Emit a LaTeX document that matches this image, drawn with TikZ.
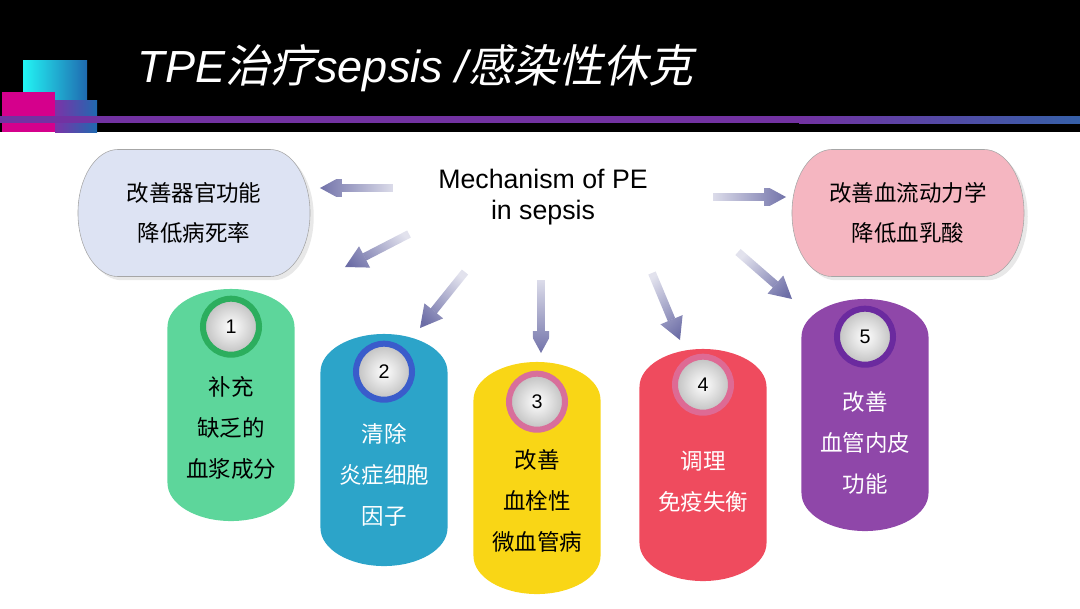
\documentclass[tikz,border=0pt]{standalone}
\usepackage{fontspec}
\setmainfont{Liberation Sans}
\newfontfamily\cjk{Noto Sans CJK SC}
\newfontfamily\cjkslant[FakeSlant=0.2]{Noto Sans CJK SC}
\usepackage{xcolor}
\usepackage{tikz}
\usetikzlibrary{positioning}
\usetikzlibrary{shadows}
\usetikzlibrary{arrows.meta}
\usetikzlibrary{backgrounds}
\usetikzlibrary{fadings}

\definecolor{deccyan}{HTML}{22F4F4}
\definecolor{decblue}{HTML}{1F6AB0}
\definecolor{decmagenta}{HTML}{D5008C}
\definecolor{decpurple}{HTML}{7B33A8}
\definecolor{hdrpurple}{HTML}{7232A2}
\definecolor{hdrblue}{HTML}{3660A8}
\definecolor{organfill}{HTML}{DDE3F3}
\definecolor{flowfill}{HTML}{F5B6C1}
\definecolor{arrowdark}{HTML}{6C6DA6}
\definecolor{pillgreen}{HTML}{5DD69B}
\definecolor{pillteal}{HTML}{2CA4C9}
\definecolor{pillyellow}{HTML}{F9D616}
\definecolor{pillred}{HTML}{EF4B5E}
\definecolor{pillpurple}{HTML}{8F47A9}
\definecolor{ringgreen}{HTML}{2CAE5E}
\definecolor{ringblue}{HTML}{3A5CCB}
\definecolor{ringpink}{HTML}{D86F9B}
\definecolor{ringrose}{HTML}{DE6A94}
\definecolor{ringpurple}{HTML}{6B2A9F}

\tikzfading[name=arrowfade, left color=transparent!80, right color=transparent!0]

\begin{document}
\begin{tikzpicture}[x=0.025cm, y=0.025cm,
goalbox/.style={rectangle, inner sep=0pt, outer sep=0pt,
minimum width=5.8cm, minimum height=3.175cm, align=center,
font=\cjk\fontsize{16}{28}\selectfont},
    goalshape/.style={draw=black!35, fill=#1, drop shadow={opacity=0.18}},
    pill/.style={minimum width=3.175cm, minimum height=5.8cm, path picture={
\fill[#1] ([yshift=-0.95cm]path picture bounding box.north west)
  arc[start angle=180, end angle=0, x radius=1.5875cm, y radius=0.95cm]
  -- ([yshift=0.95cm]path picture bounding box.south east)
  arc[start angle=0, end angle=-180, x radius=1.5875cm, y radius=0.95cm] -- cycle;}},
    badge/.style={circle, minimum size=1.4cm, draw=#1, line width=0.15cm,
inner color=white, outer color=black!25, font=\fontsize{14}{16}\selectfont},
    pilltext/.style={align=center, font=\cjk\fontsize{16}{29}\selectfont},
    mechtext/.style={align=center, font=\fontsize{19}{22}\selectfont},
    mecharrow/.style={draw=arrowdark, line width=0.2cm,
-{Triangle[length=0.55cm, width=0.6cm, line width=0pt]}, path fading=arrowfade,
fading angle=#1}]
\useasboundingbox (0,0) rectangle (1080,-608);

% header band
\fill[black] (0,0) rectangle (1080,-132);
\shade[left color=deccyan, middle color=deccyan, right color=decblue] (23,-60) rectangle (87,-100);
\fill[decmagenta] (2,-92) rectangle (55,-132);
\shade[left color=decpurple, right color=decblue] (55,-100) rectangle (97,-132);
\fill[hdrpurple] (0,-116) rectangle (800,-123);
\shade[left color=hdrpurple, right color=hdrblue] (799,-116) rectangle (1080,-123);
\node[anchor=base west, text=white, font=\fontsize{32}{36}\selectfont] (title) at (133,-82)
{{\itshape TPE}{\cjkslant 治疗}{\itshape sepsis /}{\cjkslant 感染性休克}};

\node[mechtext] (mech) at (543,-197) {Mechanism of PE\\in sepsis};
\node[goalbox] (organ) at (194,-213) {改善器官功能\\降低病死率};
\node[goalbox] (flow) at (908,-213) {改善血流动力学\\降低血乳酸};

% stadium outlines behind the two goal texts
\begin{scope}[on background layer]
\draw[goalshape=organfill] ([xshift=1cm]organ.north west) -- ([xshift=-1cm]organ.north east)
  arc[start angle=90, end angle=-90, x radius=1cm, y radius=1.5875cm]
  -- ([xshift=1cm]organ.south west)
  arc[start angle=270, end angle=90, x radius=1cm, y radius=1.5875cm] -- cycle;
\draw[goalshape=flowfill] ([xshift=1cm]flow.north west) -- ([xshift=-1cm]flow.north east)
  arc[start angle=90, end angle=-90, x radius=1cm, y radius=1.5875cm]
  -- ([xshift=1cm]flow.south west)
  arc[start angle=270, end angle=90, x radius=1cm, y radius=1.5875cm] -- cycle;
\end{scope}

\node[pill=pillgreen] (p1) at (231,-405) {};
\node[pill=pillteal] (p2) at (384,-450) {};
\node[pill=pillyellow] (p3) at (537,-478) {};
\node[pill=pillred] (p4) at (703,-465) {};
\node[pill=pillpurple] (p5) at (865,-415) {};

\node[badge=ringgreen] (b1) at ([yshift=-0.95cm]p1.north) {1};
\node[badge=ringblue] (b2) at ([yshift=-0.95cm]p2.north) {2};
\node[badge=ringpink] (b3) at ([yshift=-1cm]p3.north) {3};
\node[badge=ringrose] (b4) at ([yshift=-0.9cm]p4.north) {4};
\node[badge=ringpurple] (b5) at ([yshift=-0.95cm]p5.north) {5};

\node[pilltext] (t1) at ([yshift=-0.58cm]p1.center) {补充\\缺乏的\\血浆成分};
\node[pilltext, text=white] (t2) at ([yshift=-0.62cm]p2.center) {清除\\炎症细胞\\因子};
\node[pilltext] (t3) at ([yshift=-0.57cm]p3.center) {改善\\血栓性\\微血管病};
\node[pilltext, text=white] (t4) at ([yshift=-0.42cm]p4.center) {调理\\免疫失衡};
\node[pilltext, text=white] (t5) at ([yshift=-0.7cm]p5.center) {改善\\血管内皮\\功能};

\coordinate (s1) at (393,-188);
\coordinate (e1) at (320,-188);
\coordinate (s2) at (713,-197);
\coordinate (e2) at (786,-197);
\coordinate (s3) at (409,-234);
\coordinate (e3) at (345,-267);
\coordinate (s4) at (465,-272);
\coordinate (e4) at (420,-328);
\coordinate (s5) at (541,-280);
\coordinate (e5) at (541,-353);
\coordinate (s6) at (652,-273);
\coordinate (e6) at (680,-340);
\coordinate (s7) at (738,-252);
\coordinate (e7) at (792,-299);

\draw[mecharrow=180] (s1) -- (e1);
\draw[mecharrow=0] (s2) -- (e2);
\draw[mecharrow=207] (s3) -- (e3);
\draw[mecharrow=231] (s4) -- (e4);
\draw[mecharrow=270] (s5) -- (e5);
\draw[mecharrow=-67] (s6) -- (e6);
\draw[mecharrow=-41] (s7) -- (e7);
\end{tikzpicture}
\end{document}
